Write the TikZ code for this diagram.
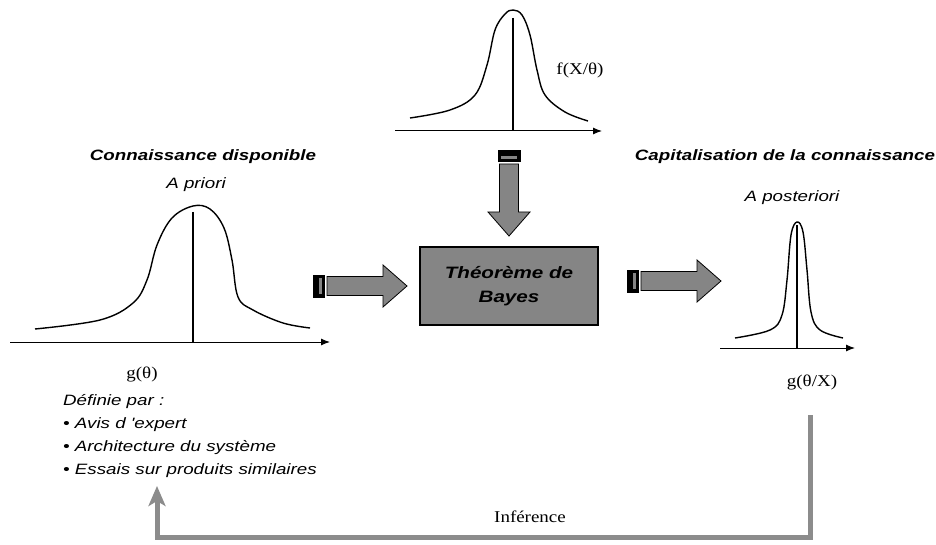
\documentclass[tikz,border=0pt]{standalone}
\usepackage{fontspec}
\newfontfamily\lblfont[FakeStretch=1.25]{Liberation Sans}
\newfontfamily\txtfont[FakeStretch=1.15]{Liberation Serif}
\usetikzlibrary{arrows.meta}
\definecolor{boxgray}{gray}{0.52}
\definecolor{linegray}{gray}{0.55}

\tikzset{
  lbl/.style={inner sep=0pt, font=\lblfont\itshape\fontsize{15}{23}\selectfont},
  head/.style={inner sep=0pt, font=\lblfont\bfseries\itshape\fontsize{15}{23}\selectfont},
  ser/.style={inner sep=0pt, font=\txtfont\fontsize{16.5}{18}\selectfont},
  axis/.style={line width=1pt, -{Latex[length=9pt,width=7pt]}},
  curve/.style={line width=1.4pt},
  feedback/.style={draw=linegray, line width=5pt, -{Stealth[length=20pt,width=17pt,inset=5pt]}},
  pics/bigarrow/.style={code={
    \fill[black] (0,-11.5) rectangle (12,11.5);
    \fill[boxgray] (6,-8) rectangle (9,8);
    \draw[fill=boxgray, line width=0.8pt] (14,-9.5) -- (#1,-9.5) -- (#1,-21)
      -- (#1+24,0) -- (#1,21) -- (#1,9.5) -- (14,9.5) -- cycle;
  }},
}

\begin{document}
\begin{tikzpicture}[x=1pt, y=-1pt]
  \useasboundingbox (0,0) rectangle (936,545);

  % a priori
  \node[head] (Known) at (203,157) {Connaissance disponible};
  \node[lbl]  (Prior) at (196,185) {A priori};
  \draw[axis] (10,342) -- (330,342);
  \draw[curve] plot[smooth, tension=0.6] coordinates {(35,329) (100,320) (133,303)
    (147,280) (157,245) (172,218) (193,206) (210,209) (224,228) (232,260)
    (238,297) (253,310) (283,323) (310,328)};
  \draw[line width=2.6pt] (193,212) -- (193,342);
  \node[ser] (gPrior) at (142,375) {g(θ)};
  \node[lbl, anchor=north west, align=left] (Defs) at (63,394)
    {Définie par :\\• Avis d 'expert\\• Architecture du système\\• Essais sur produits similaires};

  % vraisemblance
  \draw[axis] (395,131) -- (602,131);
  \draw[curve] plot[smooth, tension=0.6] coordinates {(410,118) (450,110) (475,95)
    (487,65) (495,30) (505,14) (513,10) (522,15) (530,35) (537,70) (545,95)
    (565,112) (588,121)};
  \draw[line width=2pt] (513,18) -- (513,131);
  \node[ser] (fLik) at (580,70) {f(X/θ)};

  % Bayes
  \node[draw, line width=1.5pt, fill=boxgray, minimum width=178pt, minimum height=78pt,
        inner sep=0pt, align=center, font=\lblfont\bfseries\itshape\fontsize{16.5}{24}\selectfont]
        (Bayes) at (509,286) {Théorème de\\Bayes};
  \pic at (313,286) {bigarrow=70};
  \pic at (627,281) {bigarrow=70};
  \pic[rotate=-90] at (509,150) {bigarrow=62};

  % a posteriori
  \node[head] (Capital) at (785,157) {Capitalisation de la connaissance};
  \node[lbl]  (Post)    at (792,198) {A posteriori};
  \draw[axis] (720,348) -- (855,348);
  \draw[curve] plot[smooth, tension=0.6] coordinates {(735,338) (770,330) (782,315)
    (787,280) (791,235) (797,222) (803,232) (807,270) (811,312) (820,330) (843,338)};
  \draw[line width=1.3pt] (797,225) -- (797,348);
  \node[ser] (gPost) at (812,383) {g(θ/X)};

  % inference
  \coordinate (fbtop) at (810,415);
  \coordinate (fbtip) at (157,486);
  \draw[feedback] (fbtop) -- ++(0,122) -| (fbtip);
  \node[ser] (Infer) at (530,517) {Inférence};
\end{tikzpicture}
\end{document}
